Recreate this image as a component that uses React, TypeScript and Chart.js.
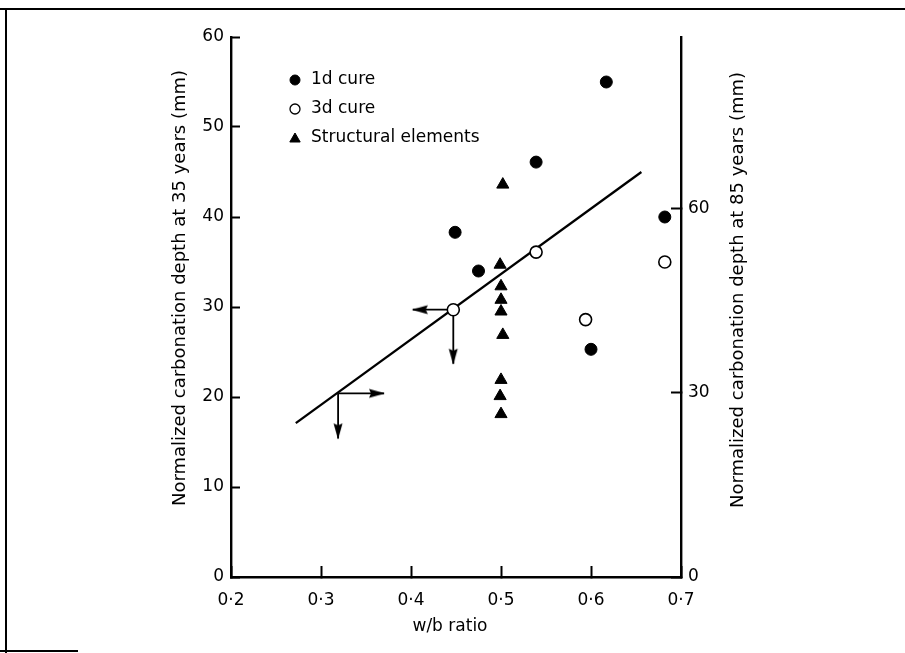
import { useEffect, useRef } from 'react';
import { Chart, registerables } from 'chart.js';
import { drawPoint } from 'chart.js/helpers';

Chart.register(...registerables);

const FAMILY = '"DejaVu Sans", "Liberation Sans", sans-serif';

// ---- axis ticks ----
const xTickValues = [0.2, 0.3, 0.4, 0.5, 0.6, 0.7];
const xTickLabels = ['0·2', '0·3', '0·4', '0·5', '0·6', '0·7'];
const leftTickValues = [0, 10, 20, 30, 40, 50, 60];
const rightTickValues = [0, 30, 60];
const leftMax = 60;
const rightMax = 88;

// ---- titles / legend labels ----
const xTitle = 'w/b ratio';
const leftTitle = 'Normalized carbonation depth at 35 years (mm)';
const rightTitle = 'Normalized carbonation depth at 85 years (mm)';
const seriesLabels = ['1d cure', '3d cure', 'Structural elements'];

// ---- data ----
const cure1dX = [0.449, 0.475, 0.539, 0.617, 0.682, 0.6];
const cure1dY = [38.3, 34.0, 46.1, 55.0, 40.0, 25.3];
const cure3dX = [0.447, 0.539, 0.594, 0.682];
const cure3dY = [29.7, 36.1, 28.6, 35.0];
const structX = [0.502, 0.499, 0.5, 0.5, 0.5, 0.502, 0.5, 0.499, 0.5];
const structY = [43.6, 34.7, 32.3, 30.8, 29.5, 26.9, 21.9, 20.1, 18.1];
const fitX = [0.272, 0.656];
const fitY = [17.1, 45.0];
// reading arrows (from, to)
const arrowLeftX = [0.447, 0.402];
const arrowLeftY = [29.7, 29.7];
const arrowDownAX = [0.447, 0.447];
const arrowDownAY = [29.7, 23.7];
const arrowRightX = [0.319, 0.37];
const arrowRightY = [20.4, 20.4];
const arrowDownBX = [0.319, 0.319];
const arrowDownBY = [20.4, 15.4];

const pts = (xs: number[], ys: number[]) => xs.map((x, i) => ({ x, y: ys[i] }));

function makeArrowHead(): HTMLCanvasElement {
  const c = document.createElement('canvas');
  c.width = 34;
  c.height = 34;
  const g = c.getContext('2d')!;
  g.fillStyle = '#000';
  g.beginPath();
  g.moveTo(17, 16);
  g.lineTo(21.5, 32);
  g.lineTo(17, 30);
  g.lineTo(12.5, 32);
  g.closePath();
  g.fill();
  return c;
}

const legendPlugin = {
  id: 'insideLegend',
  afterDraw(chart: any) {
    const { ctx, chartArea } = chart;
    const styles = [
      { pointStyle: 'circle', radius: 5, borderWidth: 1, backgroundColor: '#000', borderColor: '#000', rotation: 0 },
      { pointStyle: 'circle', radius: 5, borderWidth: 1.3, backgroundColor: '#fff', borderColor: '#000', rotation: 0 },
      { pointStyle: 'triangle', radius: 6, borderWidth: 1, backgroundColor: '#000', borderColor: '#000', rotation: 0 },
    ];
    const mx = chartArea.left + 64;
    const tx = chartArea.left + 80;
    const y0 = chartArea.top + 43;
    const gap = 29;
    ctx.save();
    ctx.font = `17px ${FAMILY}`;
    ctx.fillStyle = '#000';
    ctx.textBaseline = 'middle';
    ctx.textAlign = 'left';
    seriesLabels.forEach((label, i) => {
      const y = y0 + i * gap;
      const s = styles[i];
      ctx.fillStyle = s.backgroundColor;
      ctx.strokeStyle = s.borderColor;
      ctx.lineWidth = s.borderWidth;
      drawPoint(ctx, s as any, mx, y + (i === 2 ? 1 : 0));
      ctx.fillStyle = '#000';
      ctx.fillText(label, tx, y);
    });
    ctx.restore();
  },
};

const titlesPlugin = {
  id: 'axisTitles',
  afterDraw(chart: any) {
    const { ctx, chartArea } = chart;
    const midY = (chartArea.top + chartArea.bottom) / 2;
    const midX = (chartArea.left + chartArea.right) / 2;
    ctx.save();
    ctx.fillStyle = '#000';
    ctx.textAlign = 'center';
    ctx.textBaseline = 'middle';
    ctx.font = `17px ${FAMILY}`;
    ctx.fillText(xTitle, midX - 6, chartArea.bottom + 50);
    ctx.font = `18px ${FAMILY}`;
    ctx.save();
    ctx.translate(chartArea.left - 51, midY - 19);
    ctx.rotate(-Math.PI / 2);
    ctx.fillText(leftTitle, 0, 0);
    ctx.restore();
    ctx.save();
    ctx.translate(chartArea.right + 57, midY - 17);
    ctx.rotate(-Math.PI / 2);
    ctx.fillText(rightTitle, 0, 0);
    ctx.restore();
    ctx.restore();
  },
};

export default function App() {
  const ref = useRef<HTMLCanvasElement | null>(null);

  useEffect(() => {
    if (!ref.current) return;
    const head = makeArrowHead();
    const arrow = (xs: number[], ys: number[], rot: number) => ({
      type: 'line' as const,
      data: pts(xs, ys),
      showLine: true,
      borderColor: '#000',
      borderWidth: 1.8,
      pointRadius: [0, 6],
      pointStyle: head,
      pointRotation: rot,
      yAxisID: 'y',
      xAxisID: 'x',
    });
    const tickFont = { family: FAMILY, size: 17 };
    const chart = new Chart(ref.current, {
      type: 'scatter',
      data: {
        datasets: [
          {
            label: seriesLabels[0],
            data: pts(cure1dX, cure1dY),
            pointStyle: 'circle',
            pointRadius: 6,
            backgroundColor: '#000',
            borderColor: '#000',
            borderWidth: 1,
          },
          {
            label: seriesLabels[1],
            data: pts(cure3dX, cure3dY),
            pointStyle: 'circle',
            pointRadius: 6,
            backgroundColor: '#fff',
            borderColor: '#000',
            borderWidth: 1.6,
          },
          {
            label: seriesLabels[2],
            data: pts(structX, structY),
            pointStyle: 'triangle',
            pointRadius: 7,
            backgroundColor: '#000',
            borderColor: '#000',
            borderWidth: 1,
          },
          {
            type: 'line',
            label: 'fit',
            data: pts(fitX, fitY),
            showLine: true,
            borderColor: '#000',
            borderWidth: 2.3,
            pointRadius: 0,
          },
          arrow(arrowLeftX, arrowLeftY, 270),
          arrow(arrowDownAX, arrowDownAY, 180),
          arrow(arrowRightX, arrowRightY, 90),
          arrow(arrowDownBX, arrowDownBY, 180),
        ] as any,
      },
      options: {
        animation: false,
        responsive: false,
        devicePixelRatio: 1,
        events: [],
        layout: { padding: { left: 0, right: 0, top: 37, bottom: 0 } },
        plugins: {
          legend: { display: false },
          tooltip: { enabled: false },
          title: { display: false },
        },
        scales: {
          x: {
            type: 'linear',
            position: 'bottom',
            min: 0.2,
            max: 0.7,
            afterBuildTicks: (s: any) => {
              s.ticks = xTickValues.map((v) => ({ value: v }));
            },
            afterFit: (s: any) => {
              s.height = 76;
            },
            grid: {
              display: true,
              drawOnChartArea: false,
              drawTicks: true,
              tickLength: -11,
              color: '#000',
              tickWidth: 2,
            },
            border: { display: true, color: '#000', width: 2.4 },
            ticks: {
              padding: 24,
              color: '#000',
              font: tickFont,
              autoSkip: false,
              maxRotation: 0,
              callback: (_v: any, i: number) => xTickLabels[i] ?? '',
            },
          },
          y: {
            type: 'linear',
            position: 'left',
            min: 0,
            max: leftMax,
            afterBuildTicks: (s: any) => {
              s.ticks = leftTickValues.map((v) => ({ value: v }));
            },
            afterFit: (s: any) => {
              s.width = 231;
            },
            grid: {
              display: true,
              drawOnChartArea: false,
              drawTicks: true,
              tickLength: -9,
              color: '#000',
              tickWidth: 2,
            },
            border: { display: true, color: '#000', width: 2.4 },
            ticks: {
              padding: 16,
              color: '#000',
              font: tickFont,
              autoSkip: false,
              callback: (v: any) => String(v),
            },
          },
          y2: {
            type: 'linear',
            position: 'right',
            min: 0,
            max: rightMax,
            afterBuildTicks: (s: any) => {
              s.ticks = rightTickValues.map((v) => ({ value: v }));
            },
            afterFit: (s: any) => {
              s.width = 224;
            },
            grid: {
              display: true,
              drawOnChartArea: false,
              drawTicks: true,
              tickLength: -10,
              color: '#000',
              tickWidth: 2,
            },
            border: { display: true, color: '#000', width: 2.4 },
            ticks: {
              padding: 17,
              color: '#000',
              font: tickFont,
              autoSkip: false,
              callback: (v: any) => String(v),
            },
          },
        },
      } as any,
      plugins: [legendPlugin, titlesPlugin],
    });
    return () => chart.destroy();
  }, []);

  return (
    <div style={{ position: 'fixed', left: 0, top: 0, width: 905, height: 653, background: '#fff' }}>
      <canvas ref={ref} width={905} height={653} style={{ position: 'absolute', left: 0, top: 0 }} />
      <div style={{ position: 'absolute', left: 0, top: 8, width: 905, height: 2, background: '#000' }} />
      <div style={{ position: 'absolute', left: 5, top: 8, width: 2, height: 645, background: '#000' }} />
      <div style={{ position: 'absolute', left: 0, top: 650, width: 78, height: 2, background: '#000' }} />
    </div>
  );
}
